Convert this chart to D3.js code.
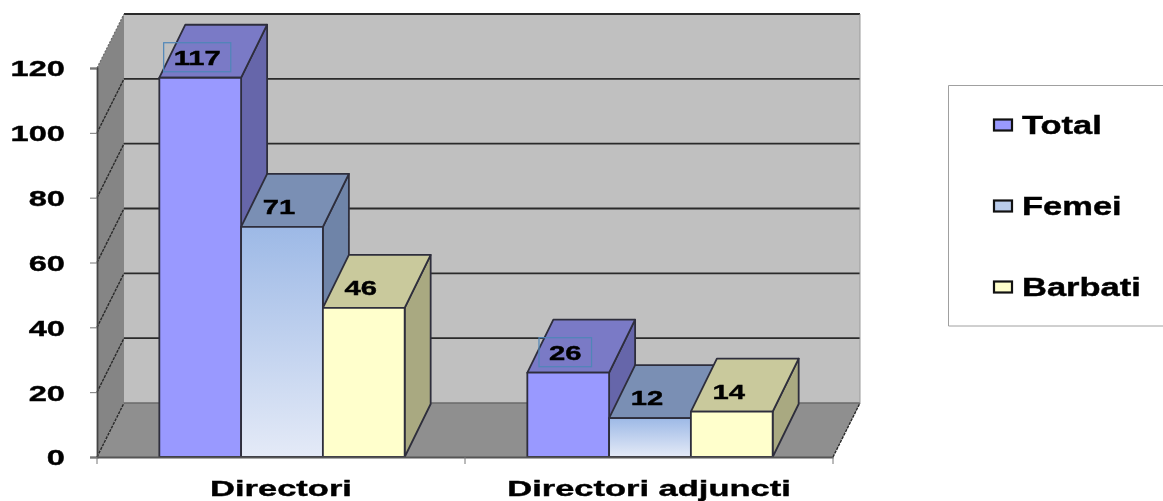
<!DOCTYPE html>
<html lang="ro">
  <head>
    <meta charset="utf-8">
    <title>Directori</title>
    <script src="https://d3js.org/d3.v7.min.js"></script>
    <style>
      html, body { margin: 0; padding: 0; background: #fff; overflow: hidden; }
      svg { display: block; filter: blur(0.45px); }
      text { font-family: "Liberation Sans", Arial, sans-serif; font-weight: bold; fill: #000; stroke: #000; stroke-width: 0.4px; }
    </style>
  </head>
  <body>
    <div id="chart"></div>
    <script>
      "use strict"

      const categories = ["Directori", "Directori adjuncti"];
      const seriesNames = ["Total", "Femei", "Barbati"];
      const total = [117, 26];
      const femei = [71, 12];
      const barbati = [46, 14];
      const yTicks = [0, 20, 40, 60, 80, 100, 120];

      const seriesValues = [total, femei, barbati];

      const W = 1163, H = 501;
      const xLeft = 97, xRight = 833, yTop = 68, yBase = 457;
      const depthX = 27, depthY = 54; // offset of the 3D back wall
      const barDepthX = 26, barDepthY = 53;

      const y = d3.scaleLinear().domain([0, 120]).range([yBase, yTop]);
      const x0 = d3.scaleBand().domain(categories).range([xLeft, xRight]);
      const x1 = d3.scaleBand().domain(seriesNames).range([1, x0.bandwidth() + 1])
        .paddingInner(0).paddingOuter(0.75);

      const looks = {
        Total:   { front: "#9999ff", top: "#7a7ac6", side: "#6666aa" },
        Femei:   { front: "url(#femeiGrad)", top: "#7a8fb4", side: "#6f84a8", swatch: "#b9cbea" },
        Barbati: { front: "#ffffcc", top: "#c9c99c", side: "#a9a981" }
      };

      const svg = d3.select("#chart").append("svg").attr("width", W).attr("height", H);

      const defs = svg.append("defs");
      const grad = defs.append("linearGradient").attr("id", "femeiGrad")
        .attr("x1", 0).attr("y1", 0).attr("x2", 0).attr("y2", 1);
      grad.append("stop").attr("offset", "0%").attr("stop-color", "#9db9e6");
      grad.append("stop").attr("offset", "100%").attr("stop-color", "#e4eaf7");

      const plot = svg.append("g");
      const poly = (pts, fill) => plot.append("polygon")
        .attr("points", pts.map(p => p.join(",")).join(" ")).attr("fill", fill);
      const line = (x1_, y1_, x2_, y2_, color, width, dash) => plot.append("line")
        .attr("x1", x1_).attr("y1", y1_).attr("x2", x2_).attr("y2", y2_)
        .attr("stroke", color).attr("stroke-width", width).attr("stroke-dasharray", dash || null);

      // back wall, left wall, floor
      poly([[xLeft + depthX, yTop - depthY], [xRight + depthX, yTop - depthY], [xRight + depthX, yBase - depthY], [xLeft + depthX, yBase - depthY]], "#c0c0c0");
      poly([[xLeft, yTop], [xLeft + depthX, yTop - depthY], [xLeft + depthX, yBase - depthY], [xLeft, yBase]], "#858585");
      poly([[xLeft, yBase], [xLeft + depthX, yBase - depthY], [xRight + depthX, yBase - depthY], [xRight, yBase]], "#8f8f8f");

      // gridlines
      yTicks.forEach(t => {
        if (t !== 120) line(xLeft, y(t), xLeft + depthX, y(t) - depthY, "#2a2a2a", 1.4, "3 1");
        line(xLeft + depthX, y(t) - depthY, xRight + depthX, y(t) - depthY, t === 0 ? "#6a6a6a" : "#2a2a2a", t === 0 ? 1.4 : 1.8);
      });
      line(xLeft, yTop, xLeft + depthX, yTop - depthY, "#6a6a6a", 1.2, "2 1.5");
      line(xRight, yBase, xRight + depthX, yBase - depthY, "#2a2a2a", 1.4, "3 1");
      line(xRight + depthX, yTop - depthY, xRight + depthX, yBase - depthY, "#9a9a9a", 1);

      // axes
      const stretch = 1.45;
      const yAxis = svg.append("g").attr("transform", `translate(${xLeft},0)`)
        .call(d3.axisLeft(y).tickValues(yTicks).tickSize(7).tickFormat(d3.format("d")));
      yAxis.select(".domain").attr("stroke", "#444").attr("stroke-width", 1.8);
      yAxis.selectAll(".tick line").attr("stroke", "#777");
      yAxis.selectAll("text")
        .attr("x", -32 / stretch)
        .attr("dy", "0.35em")
        .attr("transform", `scale(${stretch},1)`)
        .style("font-size", "22.5px");

      const xAxis = svg.append("g").attr("transform", `translate(0,${yBase})`)
        .call(d3.axisBottom(x0).tickSize(0));
      xAxis.select(".domain").attr("stroke", "#555").attr("stroke-width", 1.8);
      xAxis.selectAll("text")
        .attr("y", 0).attr("dy", 0)
        .attr("transform", `translate(0,39) scale(1.5,1)`)
        .style("font-size", "23px");
      xAxis.selectAll(".boundary")
        .data([xLeft, x0.step() + xLeft, xRight]).enter().append("line")
        .attr("x1", d => d).attr("x2", d => d)
        .attr("y1", 0).attr("y2", 7).attr("stroke", "#777");

      // bars
      const edge = "#2e2e3c";
      categories.forEach((cat, c) => {
        seriesNames.forEach((name, s) => {
          const v = seriesValues[s][c];
          const bx = x0(cat) + x1(name), bw = x1.bandwidth(), by = y(v);
          const look = looks[name];
          const g = plot.append("g").attr("stroke", edge).attr("stroke-width", 1.8).attr("stroke-linejoin", "round");
          g.append("polygon").attr("fill", look.side).attr("points",
            `${bx + bw},${by} ${bx + bw + barDepthX},${by - barDepthY} ${bx + bw + barDepthX},${yBase - barDepthY} ${bx + bw},${yBase}`);
          g.append("polygon").attr("fill", look.top).attr("points",
            `${bx},${by} ${bx + barDepthX},${by - barDepthY} ${bx + bw + barDepthX},${by - barDepthY} ${bx + bw},${by}`);
          g.append("rect").attr("x", bx).attr("y", by).attr("width", bw).attr("height", yBase - by)
            .attr("fill", look.front);
        });
      });

      // value labels sit on the top face of each bar
      categories.forEach((cat, c) => {
        seriesNames.forEach((name, s) => {
          const v = seriesValues[s][c];
          const cx = x0(cat) + x1(name) + x1.bandwidth() / 2 - 3;
          const cy = y(v) - 20;
          const t = svg.append("text")
            .attr("text-anchor", "middle").attr("dy", "0.35em")
            .attr("transform", `translate(${cx},${cy}) scale(1.46,1)`)
            .style("font-size", "20px").text(v);
          if (name === "Total") {
            const b = t.node().getBoundingClientRect();
            svg.append("rect")
              .attr("x", b.left - 10).attr("y", cy - 15)
              .attr("width", b.width + 20).attr("height", 29)
              .attr("fill", "none").attr("stroke", "#4f86b8").attr("stroke-width", 1.2);
          }
        });
      });

      // legend
      const legend = svg.append("g").attr("transform", "translate(948,85)");
      legend.append("path").attr("d", "M215,0.5H0.5V241H215").attr("fill", "#fff").attr("stroke", "#a0a0a0");
      const legendY = d3.scalePoint().domain(seriesNames).range([40, 202]);
      seriesNames.forEach(name => {
        const look = looks[name];
        legend.append("rect").attr("x", 46).attr("y", legendY(name) - 5.5)
          .attr("width", 18).attr("height", 11)
          .attr("fill", look.swatch || look.front).attr("stroke", "#111").attr("stroke-width", 2.2);
        legend.append("text")
          .attr("transform", `translate(74,${legendY(name) + 8.5}) scale(1.38,1)`)
          .style("font-size", "25px").text(name);
      });
    </script>
  </body>
</html>
